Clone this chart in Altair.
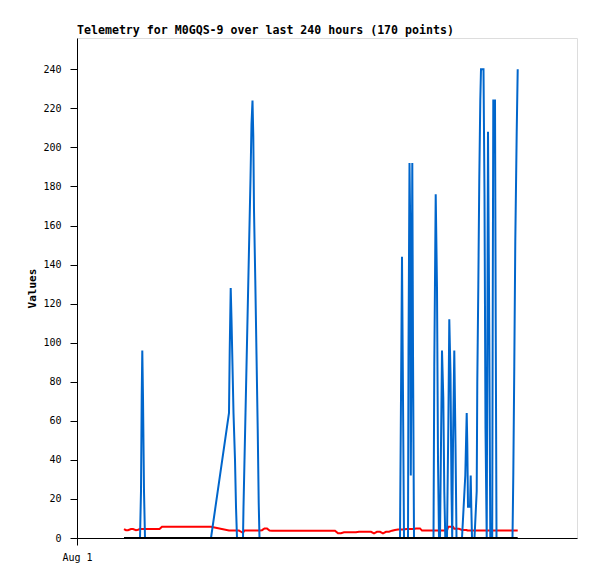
import altair as alt
import pandas as pd

TITLE = "Telemetry for M0GQS-9 over last 240 hours (170 points)"
Y_TITLE = "Values"
X_TICK_HOURS = [0]
X_TICK_LABELS = ["Aug 1"]
Y_TICKS = [0, 20, 40, 60, 80, 100, 120, 140, 160, 180, 200, 220, 240]

# hours since Aug 1 00:00
hours = [
    22.56, 23.52, 24.48, 25.92, 26.88, 28.32, 29.28, 30.24,
    30.72, 31.06, 31.34, 31.68, 32.16, 32.64,
    33.6, 34.8, 36.0, 37.2, 38.4, 39.6,
    40.8, 42.24, 43.68, 45.12, 46.56, 48.0, 49.44, 50.88, 52.32, 53.76, 55.2, 56.64, 58.08, 59.52, 60.96, 62.4, 64.32,
    72.96, 73.3, 73.78, 74.16, 74.64, 75.12, 75.84, 76.32, 76.8, 77.76, 78.72, 79.68,
    79.92, 80.4, 80.88, 81.36, 81.84, 82.32, 82.8, 83.28, 83.76, 84.24, 84.62, 84.96, 85.58, 86.16, 86.74, 87.22, 87.6,
    88.8, 90.0, 91.2, 92.4,
    93.6, 95.04, 96.48, 97.92, 99.36, 100.8, 102.24, 103.68, 105.12, 106.56, 108.0, 109.44, 110.88, 112.32,
    113.76, 115.2, 116.64, 118.08, 119.52, 120.96, 122.4, 123.84, 125.28, 126.72, 128.16, 129.6, 131.04, 132.48,
    133.92, 135.36, 136.8, 138.24, 139.68, 141.12, 142.56, 144.0, 145.44, 146.88, 148.32, 149.76, 151.2, 152.64, 154.08,
    155.04, 155.52, 156.0, 156.48, 156.96, 157.92, 158.88, 159.12, 159.6, 159.94, 160.22, 160.56, 160.94, 161.28, 161.76,
    162.72, 163.68, 164.64, 165.6, 167.04, 168.48, 169.92,
    171.12, 171.5, 172.18, 172.8, 173.28, 173.76, 174.24, 174.72, 175.2, 175.82, 176.3, 176.78,
    177.6, 178.22, 178.7, 179.28, 179.76, 180.1, 180.48, 181.1, 181.68, 182.16, 183.36,
    184.8, 186.38, 187.06, 187.34, 187.68, 188.64, 188.98, 189.26, 189.6, 190.8,
    191.86, 192.14, 192.62, 193.1, 193.58, 193.92, 195.12, 195.6, 196.08, 196.66, 197.28, 197.9, 198.38, 199.3,
    199.54, 199.82, 200.64, 200.98, 201.36,
    202.56, 204.0, 205.44, 206.88, 208.08, 209.04, 209.42, 209.9, 210.38, 211.06, 211.54,
]

blue = [
    0, 0, 0, 0, 0, 0, 0, 0,
    24, 72, 96, 72, 24, 0,
    0, 0, 0, 0, 0, 0,
    0, 0, 0, 0, 0, 0, 0, 0, 0, 0, 0, 0, 0, 0, 0, 0, 0,
    64, 96, 128, 112, 88, 64, 40, 16, 0, 0, 0, 0,
    16, 40, 64, 88, 112, 136, 160, 184, 212, 224, 206, 168, 132, 94, 56, 18, 0,
    0, 0, 0, 0,
    0, 0, 0, 0, 0, 0, 0, 0, 0, 0, 0, 0, 0, 0,
    0, 0, 0, 0, 0, 0, 0, 0, 0, 0, 0, 0, 0, 0,
    0, 0, 0, 0, 0, 0, 0, 0, 0, 0, 0, 0, 0, 0, 0,
    0, 72, 144, 72, 0, 0, 0, 96, 192, 160, 32, 96, 192, 96, 0,
    0, 0, 0, 0, 0, 0, 0,
    0, 88, 176, 128, 40, 0, 0, 48, 96, 72, 24, 0,
    0, 56, 112, 84, 24, 0, 48, 96, 48, 0, 0,
    0, 32, 64, 48, 16, 16, 32, 16, 0, 0,
    24, 80, 128, 184, 224, 240, 240, 176, 56, 0, 208, 104, 0, 0,
    112, 224, 224, 112, 0,
    0, 0, 0, 0, 0, 0, 32, 88, 152, 208, 240,
]

red = [
    4.6, 4.0, 4.0, 4.6, 4.6, 4.0, 4.2, 4.6,
    4.6, 4.6, 4.6, 4.6, 4.6, 4.6,
    4.6, 4.6, 4.6, 4.6, 4.6, 4.6,
    5.8, 5.8, 5.8, 5.8, 5.8, 5.8, 5.8, 5.8, 5.8, 5.8, 5.8, 5.8, 5.8, 5.8, 5.8, 5.8, 5.8,
    3.8, 3.8, 3.8, 3.8, 3.8, 3.8, 3.8, 3.8, 3.8, 3.8, 3.2, 2.6,
    3.2, 3.8, 3.8, 3.8, 3.8, 3.8, 3.8, 3.8, 3.8, 3.8, 3.8, 3.8, 3.8, 3.8, 3.8, 3.8, 3.8,
    4.0, 4.9, 4.9, 3.8,
    3.75, 3.75, 3.75, 3.75, 3.75, 3.75, 3.75, 3.75, 3.75, 3.75, 3.75, 3.75, 3.75, 3.75,
    3.75, 3.75, 3.75, 3.75, 3.75, 3.75, 3.75, 3.75, 2.4, 2.4, 2.9, 2.9, 2.9, 2.9,
    2.9, 3.2, 3.2, 3.2, 3.2, 3.2, 2.4, 3.2, 3.2, 2.4, 3.2, 3.2, 3.75, 4.1, 4.4,
    4.4, 4.4, 4.4, 4.4, 4.4, 4.6, 4.6, 4.6, 4.6, 4.6, 4.6, 4.6, 4.6, 4.6, 4.6,
    4.9, 4.9, 4.9, 3.8, 3.8, 3.8, 3.8,
    3.8, 3.8, 3.8, 3.8, 3.8, 3.8, 3.8, 3.8, 3.8, 3.8, 3.8, 3.8,
    3.8, 5.8, 5.8, 5.8, 5.8, 5.8, 5.8, 4.7, 4.7, 4.7, 4.7,
    4.1, 4.1, 4.1, 3.8, 3.8, 3.8, 3.8, 3.8, 3.8, 3.8,
    3.8, 3.8, 3.8, 3.8, 3.8, 3.8, 3.8, 3.8, 3.8, 3.8, 3.8, 3.8, 3.8, 3.8,
    3.8, 3.8, 3.8, 3.8, 3.8,
    3.8, 3.8, 3.8, 3.8, 3.8, 3.8, 3.8, 3.8, 3.8, 3.8, 3.8,
]

black = [0] * len(hours)

df = pd.DataFrame({"h": hours, "blue": blue, "red": red, "black": black})

FONT = "DejaVu Sans Mono"

x_enc = alt.X(
    "h:Q",
    scale=alt.Scale(domain=[0, 240], nice=False, zero=False),
    axis=alt.Axis(
        values=X_TICK_HOURS,
        labelExpr="'" + X_TICK_LABELS[0] + "'",
        title=None,
        tickSize=7,
        labelPadding=7,
        labelFont=FONT,
        labelFontSize=10,
        labelColor="black",
        domainColor="black",
        tickColor="black",
        grid=False,
        labelAlign="center",
    ),
)

y_scale = alt.Scale(domain=[0, 256], nice=False, zero=True)
y_axis = alt.Axis(
    values=Y_TICKS,
    title=Y_TITLE,
    titleFont=FONT,
    titleFontSize=11,
    titleFontWeight="bold",
    titleColor="black",
    titlePadding=5,
    tickSize=7,
    labelPadding=9,
    labelFont=FONT,
    labelFontSize=10,
    labelColor="black",
    domainColor="black",
    tickColor="black",
    grid=False,
)

base = alt.Chart(df).encode(x=x_enc)

red_line = base.mark_line(color="#ff0000", strokeWidth=2).encode(
    y=alt.Y("red:Q", scale=y_scale, axis=y_axis)
)
blue_line = base.mark_line(color="#0066cc", strokeWidth=2).encode(
    y=alt.Y("blue:Q", scale=y_scale, axis=y_axis)
)
black_line = base.mark_line(color="#000000", strokeWidth=2).encode(
    y=alt.Y("black:Q", scale=y_scale, axis=y_axis)
)

chart = (
    alt.layer(red_line, blue_line, black_line)
    .properties(
        width=500,
        height=500,
        autosize=alt.AutoSizeParams(type="none"),
        padding={"left": 69, "top": 30, "right": 12, "bottom": 33},
        title=alt.TitleParams(
            TITLE,
            anchor="start",
            frame="group",
            font=FONT,
            fontSize=11.6,
            fontWeight="bold",
            color="black",
            offset=1,
        ),
    )
    .configure_view(stroke="black", strokeWidth=1)
    .configure(background="white")
)

chart.save("out.html", embed_options={"renderer": "svg", "actions": False})
